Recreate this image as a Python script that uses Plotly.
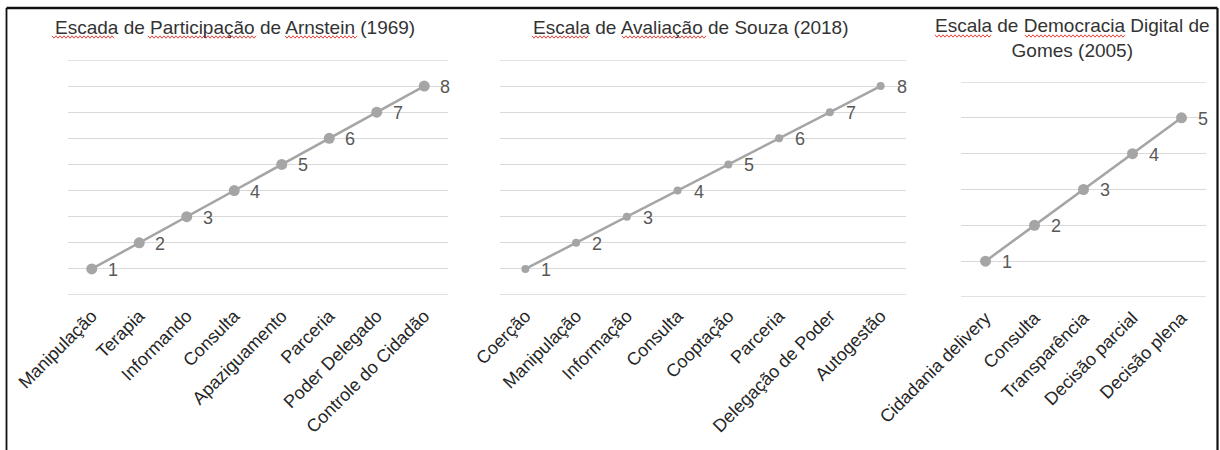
import plotly.graph_objects as go

# --- data -------------------------------------------------------------
arnstein_levels = ["Manipulação", "Terapia", "Informando", "Consulta",
                   "Apaziguamento", "Parceria", "Poder Delegado",
                   "Controle do Cidadão"]
arnstein_values = [1, 2, 3, 4, 5, 6, 7, 8]

souza_levels = ["Coerção", "Manipulação", "Informação", "Consulta",
                "Cooptação", "Parceria", "Delegação de Poder", "Autogestão"]
souza_values = [1, 2, 3, 4, 5, 6, 7, 8]

gomes_levels = ["Cidadania delivery", "Consulta", "Transparência",
                "Decisão parcial", "Decisão plena"]
gomes_values = [1, 2, 3, 4, 5]

titles = ["Escada de Participação de Arnstein (1969)",
          "Escala de Avaliação de Souza (2018)",
          "Escala de Democracia Digital de<br>Gomes (2005)"]

# --- styling ----------------------------------------------------------
W, H = 1220, 450
FONT = "Liberation Sans, Arial, sans-serif"
LINE_GREY = "#A5A5A5"
GRID_GREY = "#D9D9D9"
LABEL_GREY = "#595959"
TICK_COLOR = "#262626"
TITLE_COLOR = "#333333"

# pixel geometry of each plot area: (left, right, top, bottom)
areas = [(68, 448, 60, 295), (500, 906, 60, 295), (961, 1206, 82, 297)]
y_max = [9, 9, 6]
marker_sizes = [11, 8, 11]
title_pos = [(235, 27), (691, 27), (1072, 38)]

# spell-check style wavy underlines beneath some title words (x0, x1, y) px
squiggles = [(52, 115, 37), (148, 257, 37), (285, 358, 37),
             (532, 589, 37), (622, 707, 37),
             (935, 992, 36), (1025, 1125, 36)]

series = [(arnstein_levels, arnstein_values),
          (souza_levels, souza_values),
          (gomes_levels, gomes_values)]

fig = go.Figure()
annotations = []
shapes = []

for i, ((cats, vals), (l, r, t, b)) in enumerate(zip(series, areas)):
    n = "" if i == 0 else str(i + 1)
    xa, ya = "x" + n, "y" + n
    fig.add_trace(go.Scatter(
        x=cats, y=vals, mode="lines+markers",
        line=dict(color=LINE_GREY, width=2.5),
        marker=dict(color=LINE_GREY, size=marker_sizes[i]),
        xaxis=xa, yaxis=ya, showlegend=False, hoverinfo="skip",
        cliponaxis=False,
    ))
    for c, v in zip(cats, vals):
        annotations.append(dict(
            x=c, y=v, xref=xa, yref=ya, text=str(v), showarrow=False,
            xanchor="center", yanchor="middle", xshift=21, yshift=-1,
            font=dict(family=FONT, size=18, color=LABEL_GREY),
        ))
    xkey = "xaxis" + n
    ykey = "yaxis" + n
    fig.layout[xkey] = dict(
        domain=[l / W, r / W], anchor=ya, type="category",
        range=[-0.5, len(cats) - 0.5], showgrid=False, zeroline=False,
        showline=False, ticks="", tickangle=-45, automargin=False,
        ticklabelstandoff=6,
        tickfont=dict(family=FONT, size=18, color=TICK_COLOR),
    )
    fig.layout[ykey] = dict(
        domain=[(H - b) / H, (H - t) / H], anchor=xa,
        range=[0, y_max[i]], dtick=1, tick0=0, showgrid=True,
        gridcolor=GRID_GREY, gridwidth=1.3, zeroline=False, showline=False,
        showticklabels=False, ticks="", automargin=False,
    )
    # gridlines on the two edges of the value range
    for yv in (0, y_max[i]):
        shapes.append(dict(
            type="line", xref=xa + " domain", yref=ya, x0=0, x1=1,
            y0=yv, y1=yv, line=dict(color=GRID_GREY, width=1.3), layer="below",
        ))
    tx, ty = title_pos[i]
    annotations.append(dict(
        x=tx / W, y=1 - ty / H, xref="paper", yref="paper",
        text=titles[i], showarrow=False, xanchor="center", yanchor="middle",
        font=dict(family=FONT, size=19, color=TITLE_COLOR),
    ))


def wavy_path(x0, x1, y, step=2.0, amp=1.2):
    """SVG path of a small zigzag in paper pixels (y measured from top)."""
    pts = []
    x, k = x0, 0
    while x <= x1:
        yy = y + (amp if k % 2 else -amp)
        pts.append(f"{x / W:.5f},{1 - yy / H:.5f}")
        x += step
        k += 1
    return "M" + " L".join(pts)


for x0, x1, y in squiggles:
    shapes.append(dict(type="path", xref="paper", yref="paper",
                       path=wavy_path(x0, x1, y),
                       line=dict(color="#E8453C", width=1)))

# frame around the figure
shapes += [
    dict(type="line", xref="paper", yref="paper", x0=6.5 / W, x1=1217.5 / W,
         y0=1 - 8 / H, y1=1 - 8 / H, line=dict(color="#111111", width=2.5)),
    dict(type="line", xref="paper", yref="paper", x0=6.5 / W, x1=6.5 / W,
         y0=0, y1=1 - 8 / H, line=dict(color="#111111", width=1.8)),
    dict(type="line", xref="paper", yref="paper", x0=1217.5 / W, x1=1217.5 / W,
         y0=0, y1=1 - 8 / H, line=dict(color="#111111", width=2.2)),
]

fig.update_layout(
    width=W, height=H, margin=dict(l=0, r=0, t=0, b=0, autoexpand=False),
    paper_bgcolor="white", plot_bgcolor="white",
    annotations=annotations, shapes=shapes,
    font=dict(family=FONT),
)

fig.write_html("out.html")
